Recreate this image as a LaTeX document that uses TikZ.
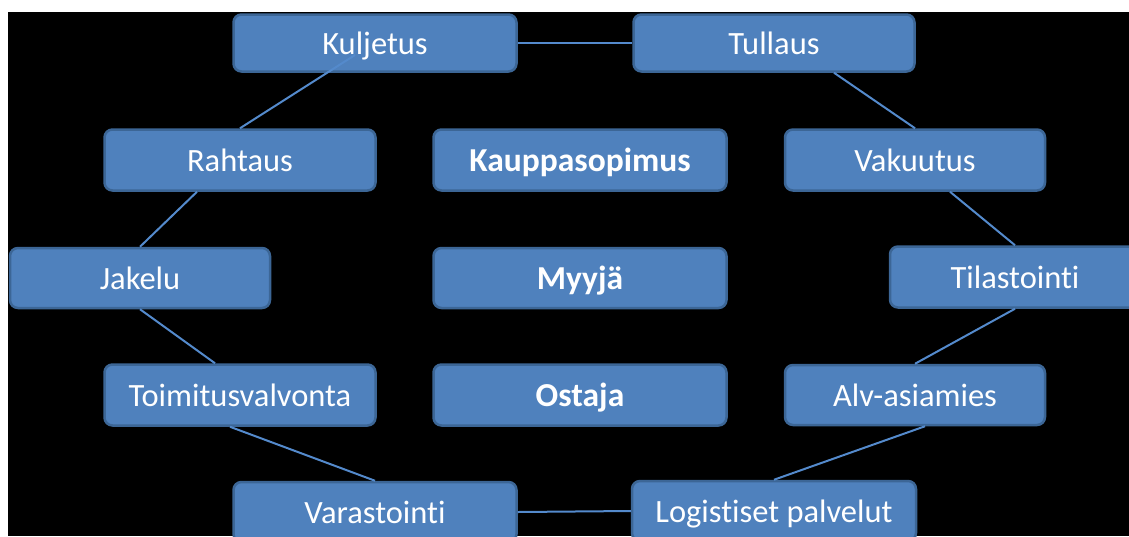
\documentclass[tikz,border=0pt]{standalone}
\usepackage{fontspec}
\setmainfont{Carlito}[Ligatures=NoCommon]
\usetikzlibrary{calc}
\definecolor{boxfill}{RGB}{79,129,189}
\definecolor{boxedge}{RGB}{60,102,150}
\definecolor{linkcol}{RGB}{84,138,204}
\tikzset{
  pbox/.style={draw=boxedge, fill=boxfill, line width=2.5pt, rounded corners=8pt,
    text=white, font=\fontsize{32.5}{38}\selectfont, inner sep=0pt, align=center,
    text height=22.5pt, text depth=0pt},
  pboxb/.style={pbox, font=\fontsize{33.5}{39}\selectfont\bfseries},
  link/.style={draw=linkcol, line width=2pt}
}
\begin{document}
\begin{tikzpicture}[x=1pt,y=-1pt]
\useasboundingbox (0,0) rectangle (1129,536);
\fill[white] (0,0) rectangle (1129,536);
\fill[black] (8,12) rectangle (1129,536);
% boxes
\node[pbox, minimum width=283pt, minimum height=57pt] (kul) at (375,43) {Kuljetus};
\node[pbox, minimum width=281pt, minimum height=57pt] (tul) at (774,43) {Tullaus};
\node[pbox, minimum width=271pt, minimum height=61pt] (rah) at (240,160) {Rahtaus};
\node[pboxb, minimum width=293pt, minimum height=61pt] (kau) at (580,160) {Kauppasopimus};
\node[pbox, minimum width=260pt, minimum height=61pt] (vak) at (915,160) {Vakuutus};
\node[pbox, minimum width=260pt, minimum height=60pt] (jak) at (140,278) {Jakelu};
\node[pboxb, minimum width=293pt, minimum height=60pt] (myy) at (580,278) {Myyjä};
\node[pbox, minimum width=250pt, minimum height=61pt] (til) at (1015,277) {Tilastointi};
\node[pbox, minimum width=271pt, minimum height=61pt] (toi) at (240,395) {Toimitusvalvonta};
\node[pboxb, minimum width=293pt, minimum height=61pt] (ost) at (580,395) {Ostaja};
\node[pbox, minimum width=260pt, minimum height=60pt] (alv) at (915,395) {Alv-asiamies};
\node[pbox, minimum width=283pt, minimum height=60pt] (var) at (375,512) {Varastointi};
\node[pbox, minimum width=284pt, minimum height=60pt] (log) at (774,511) {Logistiset palvelut};
% connectors
\draw[link] (kul.east) -- (tul.west);
\draw[link] (rah.north) -- ($(kul.center)+(-20,12)$);
\draw[link] ($(rah.south)+(-43,0)$) -- (jak.north);
\draw[link] (jak.south) -- ($(toi.north)+(-25,0)$);
\draw[link] ($(toi.south)+(-10,0)$) -- (var.north);
\draw[link] (var.east) -- (log.west);
\draw[link] (log.north) -- ($(alv.south)+(10,0)$);
\draw[link] (alv.north) -- (til.south);
\draw[link] (til.north) -- ($(vak.south)+(35,0)$);
\draw[link] (vak.north) -- ($(tul.south)+(60,0)$);
\end{tikzpicture}
\end{document}
